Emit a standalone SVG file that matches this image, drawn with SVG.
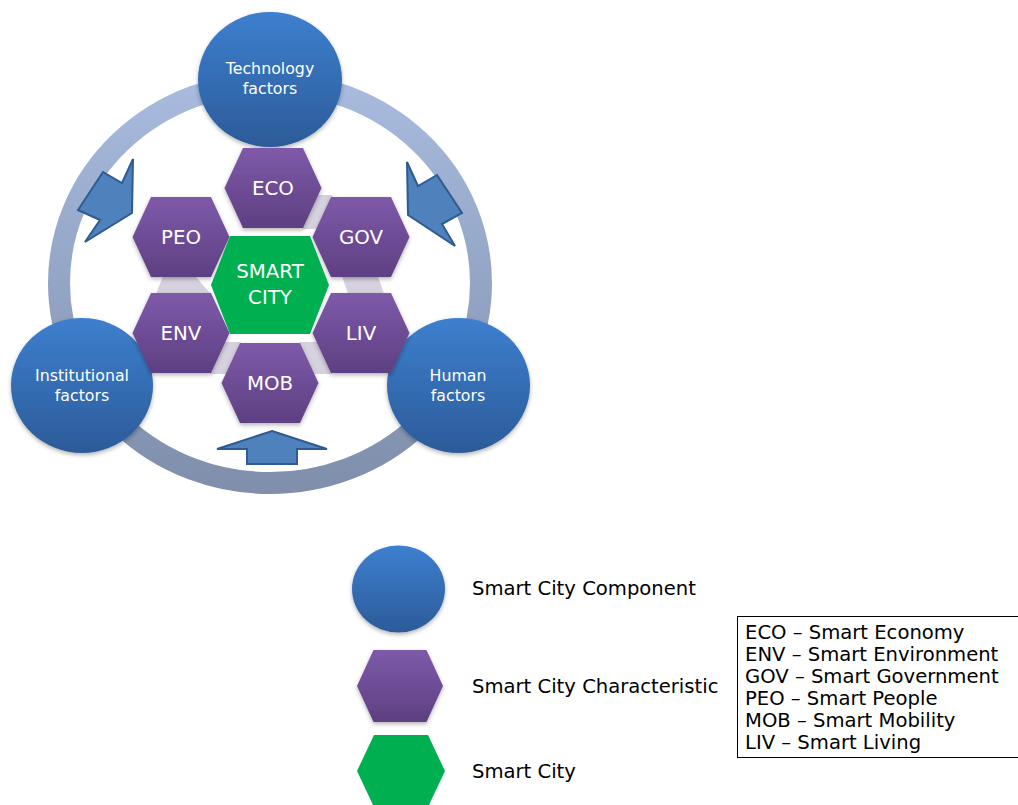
<svg xmlns="http://www.w3.org/2000/svg" width="1018" height="805" viewBox="0 0 1018 805">
<defs>
<linearGradient id="gBlue" x1="0" y1="0" x2="0" y2="1">
<stop offset="0" stop-color="#3d7fcf"/>
<stop offset="1" stop-color="#2c5b99"/>
</linearGradient>
<linearGradient id="gPurple" x1="0" y1="0" x2="0" y2="1">
<stop offset="0" stop-color="#7e5aa9"/>
<stop offset="1" stop-color="#5e3f82"/>
</linearGradient>
<linearGradient id="gRing" x1="0" y1="0" x2="0" y2="1">
<stop offset="0" stop-color="#a8bbde"/>
<stop offset="1" stop-color="#7f8fac"/>
</linearGradient>
<filter id="sh" x="-20%" y="-20%" width="140%" height="140%">
<feDropShadow dx="0" dy="2" stdDeviation="2" flood-color="#000" flood-opacity="0.3"/>
</filter>
<style>
.circ{fill:url(#gBlue);filter:url(#sh)}
.hex{fill:url(#gPurple);filter:url(#sh)}
.grn{fill:#00b050}
.conn{fill:#d5d1de}
.arr{fill:#4f81bd;stroke:#2e5b90;stroke-width:2;stroke-linejoin:miter}
.lbl{font-family:"DejaVu Sans",Verdana,sans-serif;fill:#fff;text-anchor:middle}
.c{font-size:15.8px}
.h{font-size:19.8px}
.leg{font-family:"DejaVu Sans",Verdana,sans-serif;font-size:19.6px;fill:#000}
</style>
</defs>
<rect width="1018" height="805" fill="#fff"/>

<g id="ring">
<ellipse cx="270" cy="283" rx="211" ry="200" fill="none" stroke="url(#gRing)" stroke-width="22"/>
</g>

<g id="connectors">
<polygon class="conn" points="317,195 333,195 317,229 302,229"/>
<polygon class="conn" points="163,276 195,276 211,294 156,294"/>
<polygon class="conn" points="342,276 378,276 384,294 348,294"/>
<polygon class="conn" points="225,342 241,342 226,374 210,374"/>
<polygon class="conn" points="299,342 317,342 332,374 314,374"/>
<polygon class="arr" points="133,159 122,183 103,172 78,210 100,220 85,242 132,213"/>
<polygon class="arr" points="407,162 418,186 437,175 462,213 442,224 455,246 408,215"/>
<polygon class="arr" points="272,431 327,449 297,449 297,464 247,464 247,449 217,449"/>
</g>

<g id="tech">
<ellipse class="circ" cx="270" cy="79.5" rx="72" ry="67.5"/>
<text class="lbl c" x="270" y="74">Technology</text>
<text class="lbl c" x="270" y="94">factors</text>
</g>
<g id="institutional">
<ellipse class="circ" cx="82" cy="385.5" rx="71" ry="67.5"/>
<text class="lbl c" x="82" y="381">Institutional</text>
<text class="lbl c" x="82" y="401">factors</text>
</g>
<g id="human">
<ellipse class="circ" cx="458.5" cy="385.5" rx="71.5" ry="67.5"/>
<text class="lbl c" x="458" y="381">Human</text>
<text class="lbl c" x="458" y="401">factors</text>
</g>

<g id="eco">
<polygon class="hex" points="224.5,188 243,148 303,148 321.5,188 303,228 243,228"/>
<text class="lbl h" x="273" y="195">ECO</text>
</g>
<g id="peo">
<polygon class="hex" points="132.5,237 151,197 211,197 229.5,237 211,277 151,277"/>
<text class="lbl h" x="181" y="244">PEO</text>
</g>
<g id="gov">
<polygon class="hex" points="312.5,237 331,197 391,197 409.5,237 391,277 331,277"/>
<text class="lbl h" x="361" y="244">GOV</text>
</g>
<g id="env">
<polygon class="hex" points="132.5,333 151,293 211,293 229.5,333 211,373 151,373"/>
<text class="lbl h" x="181" y="340">ENV</text>
</g>
<g id="liv">
<polygon class="hex" points="312.5,333 331,293 391,293 409.5,333 391,373 331,373"/>
<text class="lbl h" x="361" y="340">LIV</text>
</g>
<g id="mob">
<polygon class="hex" points="221.5,383 240,343 300,343 318.5,383 300,423 240,423"/>
<text class="lbl h" x="270" y="390">MOB</text>
</g>
<g id="smartcity">
<polygon class="grn" points="211,285 230,236 310,236 329,285 310,334 230,334"/>
<text class="lbl h" x="270" y="278">SMART</text>
<text class="lbl h" x="270" y="304">CITY</text>
</g>

<g id="legend-component">
<ellipse class="circ" cx="398.5" cy="589" rx="46.5" ry="43.5"/>
<text class="leg" x="472" y="595">Smart City Component</text>
</g>
<g id="legend-characteristic">
<polygon class="hex" points="357,686 373.5,650 426.5,650 443,686 426.5,722 373.5,722"/>
<text class="leg" x="472" y="693">Smart City Characteristic</text>
</g>
<g id="legend-smartcity">
<polygon class="grn" points="357,771 374,735 428,735 445,771 428,807 374,807"/>
<text class="leg" x="472" y="778">Smart City</text>
</g>
<g id="legend-box">
<rect x="737.5" y="616.5" width="285" height="141" fill="#fff" stroke="#000" stroke-width="1"/>
<text class="leg" x="745" y="639">ECO – Smart Economy</text>
<text class="leg" x="745" y="661">ENV – Smart Environment</text>
<text class="leg" x="745" y="683">GOV – Smart Government</text>
<text class="leg" x="745" y="705">PEO – Smart People</text>
<text class="leg" x="745" y="727">MOB – Smart Mobility</text>
<text class="leg" x="745" y="749">LIV – Smart Living</text>
</g>
</svg>
